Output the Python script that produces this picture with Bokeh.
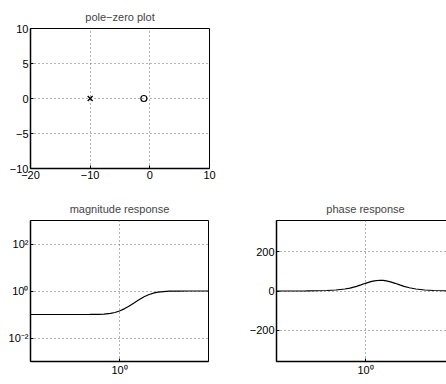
from bokeh.plotting import figure
from bokeh.layouts import column, row
from bokeh.models import FixedTicker, Range1d
from bokeh.embed import file_html
from bokeh.resources import INLINE

# pole-zero data
pole_re = [-10]
pole_im = [0]
zero_re = [-1]
zero_im = [0]

# frequency response
freq = [0.001, 0.01, 0.05, 0.1, 0.2, 0.3, 0.5, 0.7, 1, 1.5, 2, 3, 4, 5, 7, 10, 15, 20, 30, 50, 100, 200, 1000]
magnitude = [0.1, 0.1, 0.1001, 0.1005, 0.102, 0.1044, 0.1117, 0.1218, 0.1407, 0.1783, 0.2193, 0.3029, 0.3828,
             0.4561, 0.5793, 0.7106, 0.8339, 0.8955, 0.9492, 0.9808, 0.9951, 0.9988, 1.0]
phase = [0.05, 0.52, 2.6, 5.14, 10.16, 14.98, 23.71, 30.99, 39.29, 47.78, 52.12, 54.87, 54.16,
         52.12, 46.88, 39.29, 29.88, 23.71, 16.52, 10.16, 5.14, 2.6, 0.52]

pz_xticks = [-20, -10, 0, 10]
pz_yticks = [-10, -5, 0, 5, 10]
mag_yticks = [0.01, 1, 100]
mag_ylabels = {0.01: "10\u207b\u00b2", 1: "10\u2070", 100: "10\u00b2"}
ph_yticks = [-200, 0, 200]
freq_ticks = [1]
freq_labels = {1: "10\u2070"}

FONT = "Liberation Sans"


def style(p, title):
    p.title.text = title
    p.title.align = "center"
    p.title.text_font = FONT
    p.title.text_font_size = "11px"
    p.title.text_font_style = "normal"
    p.title.standoff = 11
    p.outline_line_color = "black"
    p.outline_line_width = 1
    p.background_fill_color = "white"
    p.border_fill_color = "white"
    for ax in (p.xaxis[0], p.yaxis[0]):
        ax.axis_line_color = "black"
        ax.axis_line_width = 1.5
        ax.major_tick_in = 3
        ax.major_tick_out = 0
        ax.minor_tick_in = 0
        ax.minor_tick_out = 0
        ax.major_label_standoff = 2
        ax.major_label_text_font = FONT
        ax.major_label_text_font_size = "11px"
        ax.major_label_text_color = "black"
    for g in (p.xgrid[0], p.ygrid[0]):
        g.grid_line_color = "#666666"
        g.grid_line_dash = "1 3"
        g.grid_line_width = 1


# pole-zero plot
p1 = figure(frame_width=179, frame_height=140, output_backend="svg", toolbar_location=None,
            x_range=Range1d(-20, 10), y_range=Range1d(-10, 10),
            min_border_left=30, min_border_top=28, min_border_bottom=22, min_border_right=10)
style(p1, "pole\u2212zero plot")
p1.xaxis.ticker = FixedTicker(ticks=pz_xticks)
p1.yaxis.ticker = FixedTicker(ticks=pz_yticks)
p1.xaxis.major_label_overrides = {t: str(t).replace("-", "\u2212") for t in pz_xticks}
p1.yaxis.major_label_overrides = {t: str(t).replace("-", "\u2212") for t in pz_yticks}
p1.scatter(pole_re, pole_im, marker="x", size=7, line_color="black", line_width=1.3)
p1.scatter(zero_re, zero_im, marker="circle", size=6, line_color="black", fill_color=None, line_width=1.2)

# magnitude response
p2 = figure(frame_width=178, frame_height=141, output_backend="svg", toolbar_location=None,
            x_axis_type="log", y_axis_type="log",
            x_range=Range1d(1e-3, 1e3), y_range=Range1d(1e-3, 1e3),
            min_border_left=30, min_border_top=30, min_border_bottom=20, min_border_right=30)
style(p2, "magnitude response")
p2.xaxis.ticker = FixedTicker(ticks=freq_ticks)
p2.xaxis.major_label_overrides = freq_labels
p2.yaxis.ticker = FixedTicker(ticks=mag_yticks)
p2.yaxis.major_label_overrides = mag_ylabels
p2.line(freq, magnitude, line_color="black", line_width=1.2)

# phase response
p3 = figure(frame_width=178, frame_height=141, output_backend="svg", toolbar_location=None,
            x_axis_type="log", x_range=Range1d(1e-3, 1e3), y_range=Range1d(-360, 360),
            min_border_left=38, min_border_top=30, min_border_bottom=20, min_border_right=5)
style(p3, "phase response")
p3.xaxis.ticker = FixedTicker(ticks=freq_ticks)
p3.xaxis.major_label_overrides = freq_labels
p3.yaxis.ticker = FixedTicker(ticks=ph_yticks)
p3.yaxis.major_label_overrides = {t: str(t).replace("-", "\u2212") for t in ph_yticks}
p3.line(freq, phase, line_color="black", line_width=1.2)

layout = column(p1, row(p2, p3, spacing=0), spacing=0)

html = file_html(layout, INLINE)
html = html.replace("<head>", "<head><style>html,body{overflow:hidden;}</style>", 1)
open("out.html", "w").write(html)
